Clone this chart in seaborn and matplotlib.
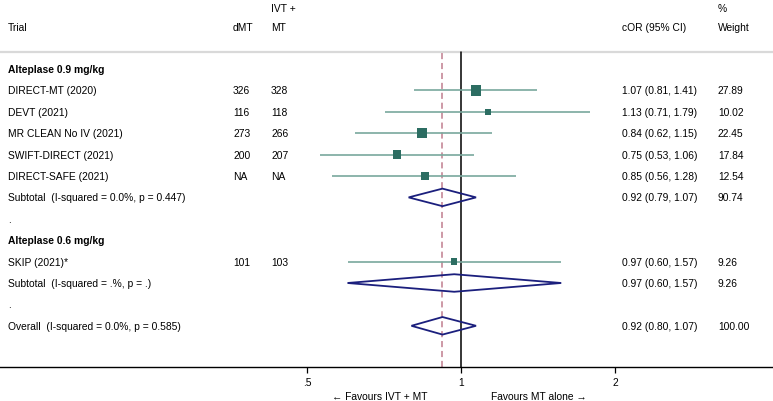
import numpy as np
import pandas as pd
import seaborn as sns
import matplotlib.pyplot as plt
import matplotlib.transforms as mtransforms

sns.set_theme(style="white")
plt.rcParams['font.family'] = ['Liberation Sans', 'DejaVu Sans']
plt.rcParams['text.color'] = 'black'
plt.rcParams['xtick.color'] = 'black'

# Row labels (top to bottom)
row_labels = ["Alteplase 0.9 mg/kg", "DIRECT-MT (2020)", "DEVT (2021)", "MR CLEAN No IV (2021)",
              "SWIFT-DIRECT (2021)", "DIRECT-SAFE (2021)", "Subtotal  (I-squared = 0.0%, p = 0.447)",
              ".", "Alteplase 0.6 mg/kg", "SKIP (2021)*", "Subtotal  (I-squared = .%, p = .)",
              ".", "Overall  (I-squared = 0.0%, p = 0.585)"]
bold_rows = [0, 8]

# Individual trials
study_rows = [1, 2, 3, 4, 5, 9]
dmt = ["326", "116", "273", "200", "NA", "101"]
ivt_mt = ["328", "118", "266", "207", "NA", "103"]
cor = [1.07, 1.13, 0.84, 0.75, 0.85, 0.97]
lo = [0.81, 0.71, 0.62, 0.53, 0.56, 0.60]
hi = [1.41, 1.79, 1.15, 1.06, 1.28, 1.57]
weight = [27.89, 10.02, 22.45, 17.84, 12.54, 9.26]

# Pooled estimates
pooled_rows = [6, 10, 12]
pooled_cor = [0.92, 0.97, 0.92]
pooled_lo = [0.79, 0.60, 0.80]
pooled_hi = [1.07, 1.57, 1.07]
pooled_weight = [90.74, 9.26, 100.00]
overall = 0.92

xticks = [0.5, 1, 2]
xticklabels = [".5", "1", "2"]

df = pd.DataFrame({"row": study_rows, "cor": cor, "lo": lo, "hi": hi, "weight": weight})

fig = plt.figure(figsize=(7.73, 4.02), dpi=100)
ax = fig.add_axes([0, 34 / 402, 1, 368 / 402])
W = 773

ax.set_xscale("log", base=2)
ax.set_xlim(2 ** (-461 / 154), 2 ** (312 / 154))
ax.set_ylim((368 - 70) / 21.4, -70 / 21.4)

gray_y = (53 - 70) / 21.4
frac_gray = (368 - 53) / 368

ax.axhline(gray_y, color="#d9d9d9", lw=1.6)
ax.axvline(1, ymin=0, ymax=frac_gray, color="black", lw=1.1, zorder=2)
ax.axvline(overall, ymin=0, ymax=frac_gray, color="#c07d8e", lw=1.1, ls=(0, (4, 2.5)), zorder=2)

# CI lines
ax.hlines(df["row"], df["lo"], df["hi"], color="#79a89d", lw=1.2, zorder=3)
# weighted squares
k = 2.2
sns.scatterplot(data=df, x="cor", y="row", size="weight", marker="s",
                sizes=(9.26 * k, 27.89 * k), size_norm=(9.26, 27.89),
                color="#2c6d62", edgecolor="#2c6d62", linewidth=0, legend=False, ax=ax, zorder=4)

# diamonds
h = 0.41
for r, c, l, u in zip(pooled_rows, pooled_cor, pooled_lo, pooled_hi):
    ax.fill([l, c, u, c, l], [r, r - h, r, r + h, r], facecolor="none",
            edgecolor="#1b1f7d", lw=1.3, zorder=4)

# text columns
tr = mtransforms.blended_transform_factory(ax.transAxes, ax.transData)
fs = 7.4
for i, lab in enumerate(row_labels):
    ax.text(8 / W, i, lab, transform=tr, va="center", ha="left", fontsize=fs,
            fontweight="bold" if i in bold_rows else "normal")
for r, a, b in zip(study_rows, dmt, ivt_mt):
    ax.text(233 / W, r, a, transform=tr, va="center", fontsize=fs)
    ax.text(271 / W, r, b, transform=tr, va="center", fontsize=fs)
for r, c, l, u, w in zip(study_rows + pooled_rows, cor + pooled_cor, lo + pooled_lo,
                         hi + pooled_hi, weight + pooled_weight):
    ax.text(622 / W, r, f"{c:.2f} ({l:.2f}, {u:.2f})", transform=tr, va="center", fontsize=fs)
    ax.text(718 / W, r, f"{w:.2f}", transform=tr, va="center", fontsize=fs)

# header
hy1 = (28 - 70) / 21.4
hy0 = (9 - 70) / 21.4
ax.text(8 / W, hy1, "Trial", transform=tr, va="center", fontsize=fs)
ax.text(233 / W, hy1, "dMT", transform=tr, va="center", fontsize=fs)
ax.text(271 / W, hy0, "IVT +", transform=tr, va="center", fontsize=fs)
ax.text(271 / W, hy1, "MT", transform=tr, va="center", fontsize=fs)
ax.text(622 / W, hy1, "cOR (95% CI)", transform=tr, va="center", fontsize=fs)
ax.text(718 / W, hy0, "%", transform=tr, va="center", fontsize=fs)
ax.text(718 / W, hy1, "Weight", transform=tr, va="center", fontsize=fs)

# axis
for s in ["top", "left", "right"]:
    ax.spines[s].set_visible(False)
ax.spines["bottom"].set_color("black")
ax.spines["bottom"].set_linewidth(1.0)
ax.set_yticks([])
ax.set_xticks(xticks)
ax.set_xticklabels(xticklabels)
ax.minorticks_off()
ax.tick_params(axis="x", bottom=True, direction="out", length=4, width=0.9, color="black",
               labelsize=fs, pad=3)
ax.set_xlabel("")
ax.set_ylabel("")

bt = mtransforms.blended_transform_factory(ax.transData, fig.transFigure)
ax.text(1, 1 - 397 / 402, "\u2190 Favours IVT + MT", transform=bt + mtransforms.ScaledTranslation(-34 / 100, 0, fig.dpi_scale_trans),
        ha="right", va="center", fontsize=fs)
ax.text(1, 1 - 397 / 402, "Favours MT alone \u2192", transform=bt + mtransforms.ScaledTranslation(30 / 100, 0, fig.dpi_scale_trans),
        ha="left", va="center", fontsize=fs)

fig.savefig("out.png", dpi=100)
